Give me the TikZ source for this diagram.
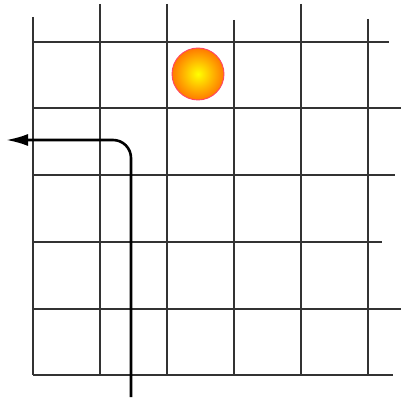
\documentclass[tikz,border=0pt]{standalone}
\usepackage{xcolor}
\usetikzlibrary{positioning,arrows.meta,calc}
\definecolor{gwLine}{HTML}{333333}
\definecolor{gwBallIn}{HTML}{FFFF00}
\definecolor{gwBallOut}{HTML}{FF7A00}
\definecolor{gwBallRim}{HTML}{FF4466}
\tikzset{
  gw-line/.style={draw=gwLine, line width=1.1pt},
  gw-ball/.style={circle, minimum size=52pt, inner sep=0pt,
    draw=gwBallRim, line width=0.9pt,
    inner color=gwBallIn, outer color=gwBallOut},
  gw-path/.style={draw=black, line width=2.6pt, rounded corners=18pt,
    -{Latex[length=22pt,width=12pt]}}
}

\begin{document}
\begin{tikzpicture}[x=1pt, y=-1pt]
\useasboundingbox (0,0) rectangle (401,403);

% vertical lines: x / top end
\foreach \x/\t in {33/17,100/4,167/4,234/20,301/4,368/19}
  \draw[gw-line] (\x,\t) -- (\x,375);
% horizontal lines: y / right end
\foreach \y/\r in {42/389,108/401,175/395,242/382,309/401,375/393}
  \draw[gw-line] (33,\y) -- (\r,\y);

\node[gw-ball] (ball) at (198,74) {};

\coordinate (start) at (131,397);
\coordinate (turn) at (131,140);
\coordinate (goal) at (6,140);
\draw[gw-path] (start) -- (turn) -- (goal);
\end{tikzpicture}
\end{document}
